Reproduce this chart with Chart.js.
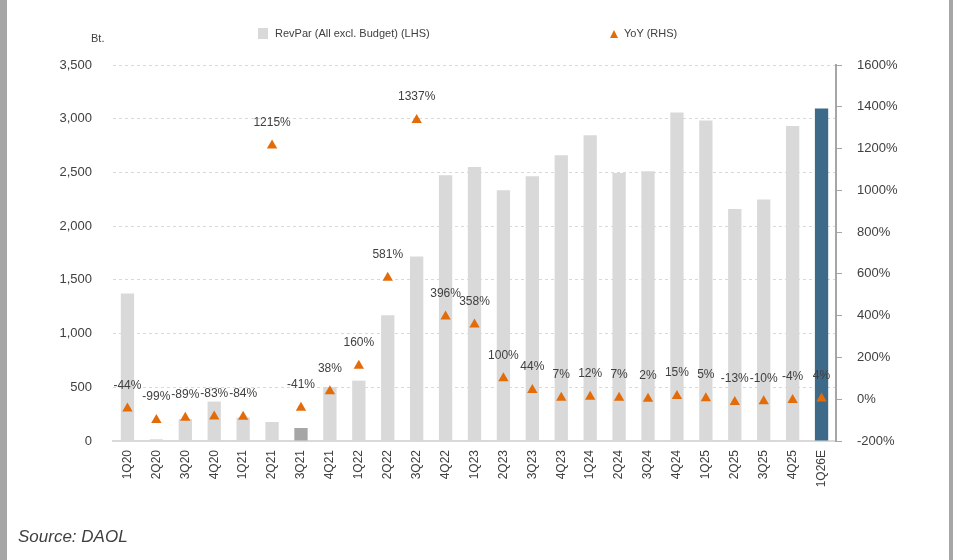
<!DOCTYPE html>
<html>
<head>
<meta charset="utf-8">
<script src="https://cdn.jsdelivr.net/npm/chart.js@4.4.1/dist/chart.umd.min.js"></script>
<style>
    html, body { margin: 0; padding: 0; background: #fff; }
    body { width: 953px; height: 560px; position: relative; overflow: hidden; font-family: "Liberation Sans", Arial, sans-serif; }
    #wrap { position: absolute; left: 0; top: 0; width: 953px; height: 560px; }
    .edge-l { position: absolute; left: 0; top: 0; width: 7px; height: 560px; background: #a6a6a6; }
    .edge-r { position: absolute; left: 949px; top: 0; width: 4px; height: 560px; background: #a6a6a6; }
    .legend { position: absolute; top: 27px; font-size: 11px; color: #404040; white-space: nowrap; }
    .sq { display: inline-block; width: 10px; height: 11px; background: #d9d9d9; vertical-align: -2px; margin-right: 7px; }
    .tri { display: inline-block; width: 0; height: 0; border-left: 4px solid transparent; border-right: 4px solid transparent; border-bottom: 8px solid #e36c0a; vertical-align: -1px; margin-right: 6px; }
    #unit { position: absolute; left: 91px; top: 32px; font-size: 11px; color: #404040; }
    #source { position: absolute; left: 18px; top: 527px; font-size: 17px; font-style: italic; color: #404040; }
</style>
</head>
<body>
<div id="wrap"><canvas id="chart" width="953" height="560"></canvas></div>
<div class="edge-l"></div>
<div class="edge-r"></div>
<div class="legend" style="left:258px;"><span class="sq"></span>RevPar (All excl. Budget) (LHS)</div>
<div class="legend" style="left:610px;"><span class="tri"></span>YoY (RHS)</div>
<div id="unit">Bt.</div>
<div id="source">Source: DAOL</div>

<script>
// Data
const quarters = ['1Q20', '2Q20', '3Q20', '4Q20', '1Q21', '2Q21', '3Q21', '4Q21', '1Q22', '2Q22', '3Q22', '4Q22',
    '1Q23', '2Q23', '3Q23', '4Q23', '1Q24', '2Q24', '3Q24', '4Q24', '1Q25', '2Q25', '3Q25', '4Q25', '1Q26E'];
const revPar = [1372, 16, 205, 367, 218, 177, 121, 503, 562, 1170, 1717, 2474,
    2551, 2334, 2465, 2660, 2846, 2495, 2511, 3058, 2983, 2160, 2248, 2933, 3095];
const yoy = [-44, -99, -89, -83, -84, 1215, -41, 38, 160, 581, 1337, 396,
    358, 100, 44, 7, 12, 7, 2, 15, 5, -13, -10, -4, 4];
const leftTicks = [0, 500, 1000, 1500, 2000, 2500, 3000, 3500];
const rightTicks = [-200, 0, 200, 400, 600, 800, 1000, 1200, 1400, 1600];

const barColors = quarters.map((q) => {
    if (q === '3Q21') return '#a6a6a6';
    if (q === '1Q26E') return '#3d6a88';
    return '#d9d9d9';
});

// Percent labels above the triangles
const yoyLabels = {
    id: 'yoyLabels',
    afterDatasetsDraw(chart) {
        const ctx = chart.ctx;
        const meta = chart.getDatasetMeta(1);
        ctx.save();
        ctx.font = '12px "Liberation Sans", Arial, sans-serif';
        ctx.fillStyle = '#404040';
        ctx.textAlign = 'center';
        ctx.textBaseline = 'middle';
        meta.data.forEach((pt, i) => {
            ctx.fillText(yoy[i] + '%', pt.x, pt.y - 23);
        });
        ctx.restore();
    }
};

const ctx = document.getElementById('chart').getContext('2d');
new Chart(ctx, {
    type: 'bar',
    data: {
        labels: quarters,
        datasets: [{
            label: 'RevPar (All excl. Budget) (LHS)',
            data: revPar,
            backgroundColor: barColors,
            barPercentage: 0.46,
            categoryPercentage: 1,
            yAxisID: 'y',
            order: 2
        }, {
            type: 'line',
            label: 'YoY (RHS)',
            data: yoy,
            showLine: false,
            pointStyle: 'triangle',
            pointRadius: 6,
            pointBackgroundColor: '#e36c0a',
            pointBorderColor: '#e36c0a',
            pointBorderWidth: 0,
            yAxisID: 'y1',
            order: 1
        }]
    },
    options: {
        responsive: false,
        animation: false,
        layout: { padding: { top: 65, left: 0, right: 0, bottom: 0 } },
        plugins: {
            legend: { display: false },
            tooltip: { enabled: false }
        },
        scales: {
            x: {
                grid: { display: false },
                border: { display: true, color: '#d9d9d9', width: 2 },
                ticks: {
                    color: '#404040',
                    font: { size: 12, family: '"Liberation Sans", Arial, sans-serif' },
                    minRotation: 90,
                    maxRotation: 90,
                    padding: 1
                },
                afterFit(scale) { scale.height = 119; }
            },
            y: {
                position: 'left',
                min: 0,
                max: 3500,
                afterBuildTicks(scale) { scale.ticks = leftTicks.map((v) => ({ value: v })); },
                grid: { color: '#d9d9d9', drawTicks: false },
                border: { display: false, dash: [3, 3] },
                ticks: {
                    color: '#404040',
                    font: { size: 13, family: '"Liberation Sans", Arial, sans-serif' },
                    padding: 21,
                    callback: (v) => v.toLocaleString('en-US')
                },
                afterFit(scale) { scale.width = 113; }
            },
            y1: {
                position: 'right',
                min: -200,
                max: 1600,
                afterBuildTicks(scale) { scale.ticks = rightTicks.map((v) => ({ value: v })); },
                grid: { drawOnChartArea: false, drawTicks: true, tickLength: 6, color: '#a6a6a6' },
                border: { display: true, color: '#a6a6a6', width: 2 },
                ticks: {
                    color: '#404040',
                    font: { size: 13, family: '"Liberation Sans", Arial, sans-serif' },
                    padding: 15,
                    callback: (v) => v + '%'
                },
                afterFit(scale) { scale.width = 117; }
            }
        }
    },
    plugins: [yoyLabels]
});
</script>
</body>
</html>
